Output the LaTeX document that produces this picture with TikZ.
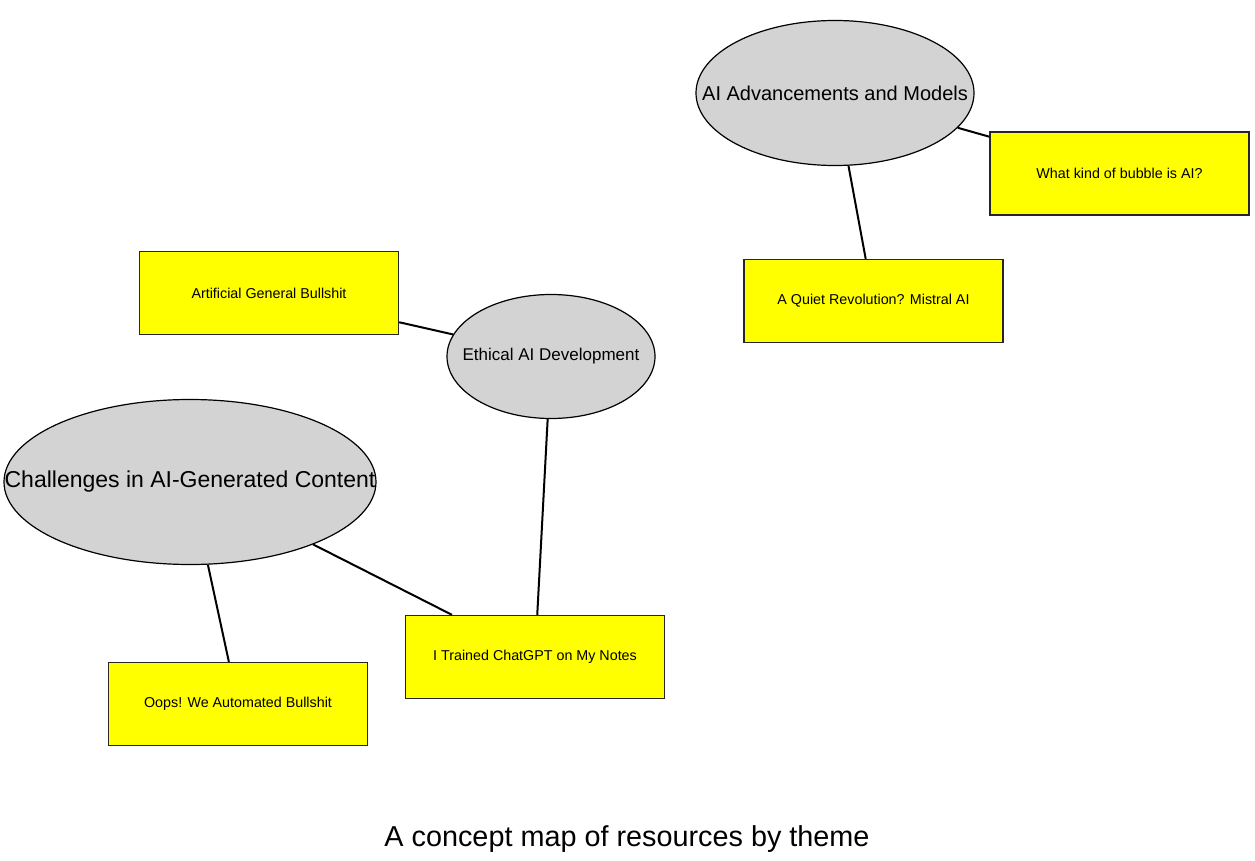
\documentclass[tikz,border=0pt]{standalone}
\usepackage{fontspec}
\setmainfont{Liberation Sans}
\usepackage{tikz}
\usetikzlibrary{shapes, positioning}
\definecolor{themegray}{RGB}{211,211,211}
\definecolor{resourceyellow}{RGB}{255,255,0}
\tikzstyle{theme} = [ellipse, draw=black, fill=themegray, line width=1.2pt, inner sep=0pt, text centered]
\tikzstyle{resource} = [rectangle, draw=black!85, fill=resourceyellow, line width=1.3pt, inner sep=0pt, minimum width=259, minimum height=83, text centered, font=\fontsize{14.3}{17}\selectfont]
\tikzstyle{link} = [line width=2pt, black]

\begin{document}
\begin{tikzpicture}[x=1pt, y=-1pt]
    \useasboundingbox (0,0) rectangle (1255,861);
    \node (AIAdvancements) [theme, minimum width=278, minimum height=145, font=\fontsize{20}{24}\selectfont] at (835,93) {\makebox[0pt]{AI Advancements and Models}};
    \node (Ethical) [theme, minimum width=208, minimum height=124, font=\fontsize{17}{20}\selectfont] at (551,356.5) {\makebox[0pt]{Ethical AI Development}};
    \node (Challenges) [theme, minimum width=372, minimum height=165, font=\fontsize{23}{27}\selectfont] at (190,482) {\makebox[0pt]{Challenges in AI-Generated Content}};
    \node (Bubble) [resource] at (1119.5,173.5) {What kind of bubble is AI?};
    \node (Mistral) [resource] at (873.5,301) {A Quiet Revolution? Mistral AI};
    \node (Bullshit) [resource] at (269,293) {Artificial General Bullshit};
    \node (ChatGPT) [resource] at (535,657) {I Trained ChatGPT on My Notes};
    \node (Oops) [resource] at (238,704) {Oops! We Automated Bullshit};
    \node (Caption) [font=\fontsize{28.8}{34}\selectfont] at (627,839) {A concept map of resources by theme};
    \draw [link] (AIAdvancements) -- (Bubble);
    \draw [link] (AIAdvancements) -- (Mistral);
    \draw [link] (Bullshit) -- (Ethical);
    \draw [link] (Ethical) -- (ChatGPT);
    \draw [link] (Challenges) -- (ChatGPT);
    \draw [link] (Challenges) -- (Oops);
\end{tikzpicture}
\end{document}
